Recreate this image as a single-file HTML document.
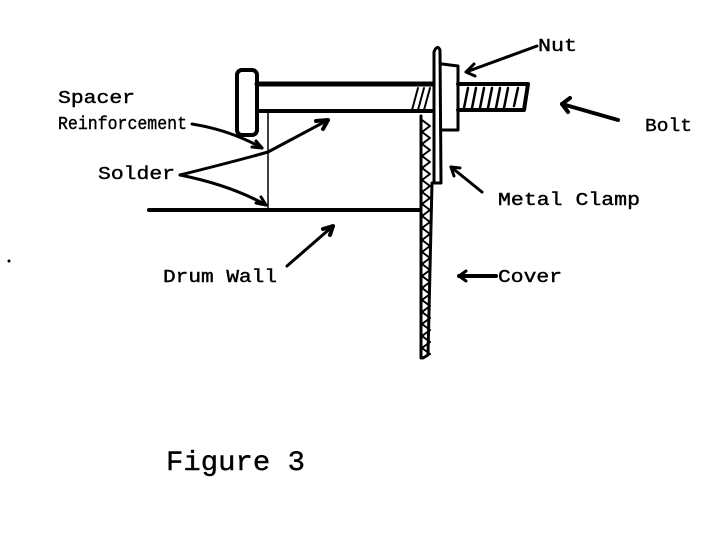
<!DOCTYPE html>
<html><head><style>
body{margin:0;background:#fff;width:708px;height:550px;overflow:hidden}
text{font-family:"Liberation Mono",monospace;fill:#000;stroke:#000;stroke-width:0.4}
</style></head><body>
<svg width="708" height="550" viewBox="0 0 708 550" xmlns="http://www.w3.org/2000/svg">
<g stroke="#000" fill="none" stroke-linecap="round" stroke-linejoin="round">
<rect x="237" y="70" width="20" height="65" rx="5" stroke-width="4"/>
<line x1="257" y1="84" x2="432" y2="84" stroke-width="5"/>
<line x1="257" y1="111" x2="432" y2="111" stroke-width="4"/>
<g stroke-width="2"><line x1="412" y1="110" x2="418" y2="88"/><line x1="418" y1="110" x2="424" y2="88"/><line x1="424" y1="110" x2="430" y2="88"/></g>
<path d="M458 84 L528 84 L524 110 L458 110" stroke-width="4"/>
<g stroke-width="2.5"><line x1="464" y1="108" x2="468" y2="88"/><line x1="472" y1="108" x2="476" y2="88"/><line x1="480" y1="108" x2="484" y2="88"/><line x1="488" y1="108" x2="492" y2="88"/><line x1="496" y1="108" x2="500" y2="88"/><line x1="504" y1="108" x2="508" y2="88"/><line x1="514" y1="106" x2="518" y2="88"/></g>
<path d="M442 64 L458 66 L458 130 L442 130" stroke-width="3"/>
<path d="M434 183 L434 52 Q437 44 440 50 L441 183 Z" stroke-width="3"/>
<path d="M421 116 L421 358 M432 183 L428 355 L423 358" stroke-width="3"/>
<path d="M422 120 l8 6 l-8 6 l8 6 l-8 6 l8 6 l-8 6 l8 6 l-8 6 l8 6 l-8 6 l8 6 l-8 6 l8 6 l-8 6 l8 6 l-8 6 l8 6 l-8 6 l8 6 l-8 6 l8 6 l-8 6 l8 6 l-8 6 l8 6 l-8 6 l8 6 l-8 6 l8 6 l-8 6 l8 6 l-8 6 l8 6 l-8 6 l8 6 l-8 6 l8 6 l-8 6 l8 6" stroke-width="2"/>
<line x1="149" y1="210" x2="420" y2="210" stroke-width="4"/>
<line x1="268" y1="112" x2="268" y2="208" stroke-width="1.5"/>
<path d="M192 124 Q230 130 262 148" stroke-width="3"/>
<path d="M262 148 l-10 -1 M262 148 l-6 -7" stroke-width="3"/>
<path d="M180 175 Q240 160 268 152 L328 120" stroke-width="3"/>
<path d="M328 120 l-12 1 M328 120 l-5 9" stroke-width="4"/>
<path d="M180 175 Q230 185 266 205" stroke-width="3"/>
<path d="M266 205 l-10 -2 M266 205 l-5 -8" stroke-width="3"/>
<path d="M287 266 L333 226" stroke-width="3"/>
<path d="M333 226 l-10 3 M333 226 l-3 9" stroke-width="4"/>
<path d="M537 46 L466 72" stroke-width="3"/>
<path d="M466 72 l8 -8 M466 72 l9 4" stroke-width="3"/>
<path d="M618 120 L562 104" stroke-width="4"/>
<path d="M562 104 l8 -6 M562 104 l6 8" stroke-width="4"/>
<path d="M482 192 L451 167" stroke-width="3"/>
<path d="M451 167 l3 9 M451 167 l9 1" stroke-width="3"/>
<path d="M496 276 L459 276" stroke-width="4"/>
<path d="M459 276 l7 -5 M459 276 l7 5" stroke-width="3"/>
</g>
<g font-size="18">
<text x="58" y="103" textLength="77" lengthAdjust="spacingAndGlyphs">Spacer</text>
<text x="58" y="129" textLength="129" lengthAdjust="spacingAndGlyphs">Reinforcement</text>
<text x="98" y="179" textLength="77" lengthAdjust="spacingAndGlyphs">Solder</text>
<text x="163" y="282" textLength="114" lengthAdjust="spacingAndGlyphs">Drum Wall</text>
<text x="538" y="51" textLength="39" lengthAdjust="spacingAndGlyphs">Nut</text>
<text x="645" y="131" textLength="47" lengthAdjust="spacingAndGlyphs">Bolt</text>
<text x="498" y="205" textLength="142" lengthAdjust="spacingAndGlyphs">Metal Clamp</text>
<text x="498" y="282" textLength="64" lengthAdjust="spacingAndGlyphs">Cover</text>
</g>
<text x="166" y="470" font-size="28" textLength="139" lengthAdjust="spacingAndGlyphs">Figure 3</text>
<circle cx="9" cy="261" r="1.5" fill="#000"/>
</svg>
</body></html>
